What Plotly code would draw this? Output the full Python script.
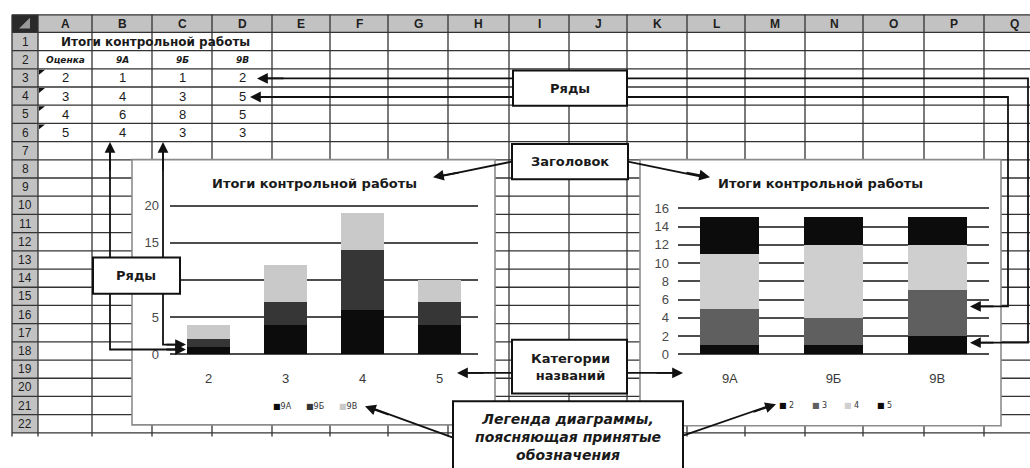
import plotly.graph_objects as go

W, H = 1030, 468

# ---------------- data ----------------
grades = ["2", "3", "4", "5"]
classes = ["9А", "9Б", "9В"]
scores_9a = [1, 4, 6, 4]
scores_9b = [1, 3, 8, 3]
scores_9v = [2, 5, 5, 3]
chart_title = "Итоги контрольной работы"
grade_header = "Оценка"
col_letters = ["A", "B", "C", "D", "E", "F", "G", "H", "I", "J", "K", "L", "M", "N", "O", "P", "Q"]
row_numbers = list(range(1, 23))
left_ticks = [0, 5, 10, 15, 20]
right_ticks = [0, 2, 4, 6, 8, 10, 12, 14, 16]
label_series = "Ряды"
label_title = "Заголовок"
label_categories = "Категории<br>названий"
label_legend = "<i>Легенда диаграммы,<br>поясняющая принятые<br>обозначения</i>"

left_colors = ["#0c0c0c", "#363636", "#c9c9c9"]
right_colors = ["#0c0c0c", "#5f5f5f", "#cfcfcf", "#0c0c0c"]

series_by_class = [scores_9a, scores_9b, scores_9v]


def px(x):
    return x / W


def py(y):
    return 1 - y / H


# ---------------- layout geometry (pixels) ----------------
col_edges = [38, 92, 152, 212, 272, 330, 388, 448, 509, 569, 627, 687, 745, 805, 863, 924, 984, 1044]
hdr_top, hdr_bot = 10, 28
row_h = (437.2 - 28) / 22
row_edges = [hdr_bot + k * row_h for k in range(23)]


def row_c(n):
    return hdr_bot + (n - 0.5) * row_h


def col_c(i):
    return (col_edges[i] + col_edges[i + 1]) / 2


fig = go.Figure()

# left chart: categories = grades, series = classes
for name, vals, col in zip(classes, series_by_class, left_colors):
    fig.add_bar(x=grades, y=vals, name=name, marker_color=col, marker_line_width=0,
                xaxis="x", yaxis="y", showlegend=False, hoverinfo="skip")

# right chart: categories = classes, series = grades
for i, g in enumerate(grades):
    vals = [s[i] for s in series_by_class]
    fig.add_bar(x=classes, y=vals, name=g, marker_color=right_colors[i], marker_line_width=0,
                xaxis="x2", yaxis="y2", showlegend=False, hoverinfo="skip")

shapes = []
# spreadsheet backgrounds
shapes.append(dict(type="rect", xref="paper", yref="paper", layer="below",
                   x0=px(12), x1=px(1030), y0=py(hdr_top), y1=py(hdr_bot),
                   fillcolor="#c2c2c2", line_width=0))
shapes.append(dict(type="rect", xref="paper", yref="paper", layer="below",
                   x0=px(12), x1=px(38), y0=py(hdr_bot), y1=py(row_edges[-1]),
                   fillcolor="#c2c2c2", line_width=0))
shapes.append(dict(type="rect", xref="paper", yref="paper", layer="below",
                   x0=px(12), x1=px(38), y0=py(hdr_top), y1=py(hdr_bot),
                   fillcolor="#2a2a2a", line_width=0))
shapes.append(dict(type="path", xref="paper", yref="paper", layer="below",
                   path=f"M {px(30)},{py(13)} L {px(30)},{py(24)} L {px(19)},{py(24)} Z",
                   fillcolor="#9a9a9a", line_width=0))
# grid
for y in [hdr_top] + row_edges:
    shapes.append(dict(type="line", xref="paper", yref="paper", layer="below",
                       x0=px(12), x1=px(1030), y0=py(y), y1=py(y),
                       line=dict(color="#333333", width=1.3)))
for x in [12] + col_edges:
    shapes.append(dict(type="line", xref="paper", yref="paper", layer="below",
                       x0=px(x), x1=px(x), y0=py(hdr_top), y1=py(441),
                       line=dict(color="#333333", width=1.3)))
# small indicator triangles in A3..A6
for i in range(len(grades)):
    yt = row_edges[2 + i]
    shapes.append(dict(type="path", xref="paper", yref="paper", layer="below",
                       path=f"M {px(39)},{py(yt+1)} L {px(45)},{py(yt+1)} L {px(39)},{py(yt+6)} Z",
                       fillcolor="#111", line_width=0))
# chart boxes
for (x0, x1, y0, y1) in [(132, 495, 158, 429), (640, 1001, 158, 430)]:
    shapes.append(dict(type="rect", xref="paper", yref="paper", layer="below",
                       x0=px(x0), x1=px(x1), y0=py(y0), y1=py(y1),
                       fillcolor="white", line=dict(color="#8c8c8c", width=1.6)))


# connector lines (above)
def path_line(points):
    d = "M " + " L ".join(f"{px(x)},{py(y)}" for x, y in points)
    shapes.append(dict(type="path", xref="paper", yref="paper", layer="above",
                       path=d, line=dict(color="#111", width=1.8)))


path_line([(262, 75), (1028, 75), (1028, 345), (975, 345)])
path_line([(255, 94), (1008, 94), (1008, 308), (975, 308)])
path_line([(110, 146), (110, 352), (180, 352)])
path_line([(163, 146), (163, 347), (180, 347)])
path_line([(512, 160), (440, 175)])
path_line([(628, 160), (700, 175)])
path_line([(512, 376), (465, 376)])
path_line([(627, 376), (675, 376)])
path_line([(453, 442), (372, 412)])
path_line([(683, 440), (768, 410)])

# annotation boxes (above)
boxes = [(513, 627, 67, 103), (512, 628, 142, 178), (93, 180, 258, 295),
         (512, 627, 342, 397), (453, 683, 405, 476)]
for (x0, x1, y0, y1) in boxes:
    shapes.append(dict(type="rect", xref="paper", yref="paper", layer="above",
                       x0=px(x0), x1=px(x1), y0=py(y0), y1=py(y1),
                       fillcolor="white", line=dict(color="#111", width=2)))

ann = []


def text(x, y, t, size=12, bold=False, color="#1a1a1a", family="Liberation Sans", xanchor="center"):
    if bold:
        t = f"<b>{t}</b>"
    ann.append(dict(x=px(x), y=py(y), xref="paper", yref="paper", text=t, showarrow=False,
                    xanchor=xanchor, yanchor="middle",
                    font=dict(size=size, color=color, family=family)))


def arrow(tip, tail):
    ann.append(dict(x=px(tip[0]), y=py(tip[1]), xref="paper", yref="paper", text="",
                    showarrow=True, ax=tail[0] - tip[0], ay=tail[1] - tip[1],
                    axref="pixel", ayref="pixel", arrowhead=2, arrowsize=1.2,
                    arrowwidth=1.8, arrowcolor="#111"))


# spreadsheet headers
for i, letter in enumerate(col_letters):
    text(col_c(i), 19, letter, size=12, bold=True, color="#1e1e1e")
for n in row_numbers:
    text(25, row_c(n), str(n), size=12, color="#1e1e1e")

# table content
text((col_edges[0] + col_edges[4]) / 2, row_c(1), chart_title, size=12, bold=True, family="DejaVu Sans")
text(col_c(0), row_c(2), f"<i>{grade_header}</i>", size=9, bold=True, family="DejaVu Sans")
for j, cname in enumerate(classes):
    text(col_c(j + 1), row_c(2), f"<i>{cname}</i>", size=9, bold=True, family="DejaVu Sans")
for i, g in enumerate(grades):
    r = 3 + i
    text(col_c(0), row_c(r), g, size=13)
    for j, s in enumerate(series_by_class):
        text(col_c(j + 1), row_c(r), str(s[i]), size=13)

# chart titles
text(314, 182, chart_title, size=13, bold=True, family="DejaVu Sans")
text(820, 182, chart_title, size=13, bold=True, family="DejaVu Sans")

# legends
for k, (name, col) in enumerate(zip(classes, left_colors)):
    text(271 + k * 33, 410, f"<span style='color:{col}'>■</span>{name}", size=8,
         color="#333", family="DejaVu Sans", xanchor="left")
for k, (name, col) in enumerate(zip(grades, right_colors)):
    text(777 + k * 32.5, 409, f"<span style='color:{col}'>■</span> {name}", size=8,
         color="#333", family="DejaVu Sans", xanchor="left")

# callout texts
text(570, 85, label_series, size=13, bold=True, family="DejaVu Sans")
text(570, 160, label_title, size=13, bold=True, family="DejaVu Sans")
text(136, 276, label_series, size=13, bold=True, family="DejaVu Sans")
text(570, 370, label_categories, size=13, bold=True, family="DejaVu Sans")
text(568, 441, label_legend, size=14, bold=True, family="DejaVu Sans")

# arrow heads
arrow((257, 75), (285, 75))
arrow((250, 94), (278, 94))
arrow((970, 345), (995, 345))
arrow((970, 308), (995, 308))
arrow((110, 140), (110, 170))
arrow((163, 140), (163, 170))
arrow((186, 352), (165, 352))
arrow((186, 347), (165, 347))
arrow((433, 176), (460, 171))
arrow((710, 176), (685, 171))
arrow((457, 376), (485, 376))
arrow((683, 376), (655, 376))
arrow((365, 410), (390, 419))
arrow((776, 408), (752, 416))

tick_font = dict(size=13, color="#4a4a4a", family="Liberation Sans")
cat_font = dict(size=13, color="#3a3a3a", family="Liberation Sans")

L_SCALE, R_SCALE = 7.6, 9.33
L_RANGE = [-0.3, 20.4]
R_RANGE = [-0.3, 16.3]

fig.update_layout(
    width=W, height=H, autosize=False,
    margin=dict(l=0, r=0, t=0, b=0, pad=0),
    paper_bgcolor="white", plot_bgcolor="rgba(0,0,0,0)",
    barmode="stack", bargap=0.43,
    showlegend=False,
    shapes=shapes, annotations=ann,
    xaxis=dict(domain=[px(170), px(478)], type="category", showgrid=False, showline=False,
               zeroline=False, ticks="", tickfont=cat_font, ticklabelstandoff=12, fixedrange=True),
    yaxis=dict(domain=[py(357 - L_RANGE[0] * L_SCALE), py(357 - L_RANGE[1] * L_SCALE)],
               range=L_RANGE, tickvals=left_ticks,
               showgrid=True, gridcolor="#4d4d4d", gridwidth=1.6, zeroline=False, showline=False,
               ticks="", tickfont=tick_font, ticklabelstandoff=10, fixedrange=True),
    xaxis2=dict(domain=[px(678), px(989)], type="category", showgrid=False, showline=False,
                zeroline=False, ticks="", tickfont=cat_font, ticklabelstandoff=12, fixedrange=True,
                anchor="y2"),
    yaxis2=dict(domain=[py(357 - R_RANGE[0] * R_SCALE), py(357 - R_RANGE[1] * R_SCALE)],
                range=R_RANGE, tickvals=right_ticks,
                showgrid=True, gridcolor="#4d4d4d", gridwidth=1.6, zeroline=False, showline=False,
                ticks="", tickfont=tick_font, ticklabelstandoff=8, fixedrange=True, anchor="x2"),
)

fig.write_html("out.html", config={"displayModeBar": False},
               post_script="document.body.style.margin='0px';document.body.style.overflow='hidden';")
